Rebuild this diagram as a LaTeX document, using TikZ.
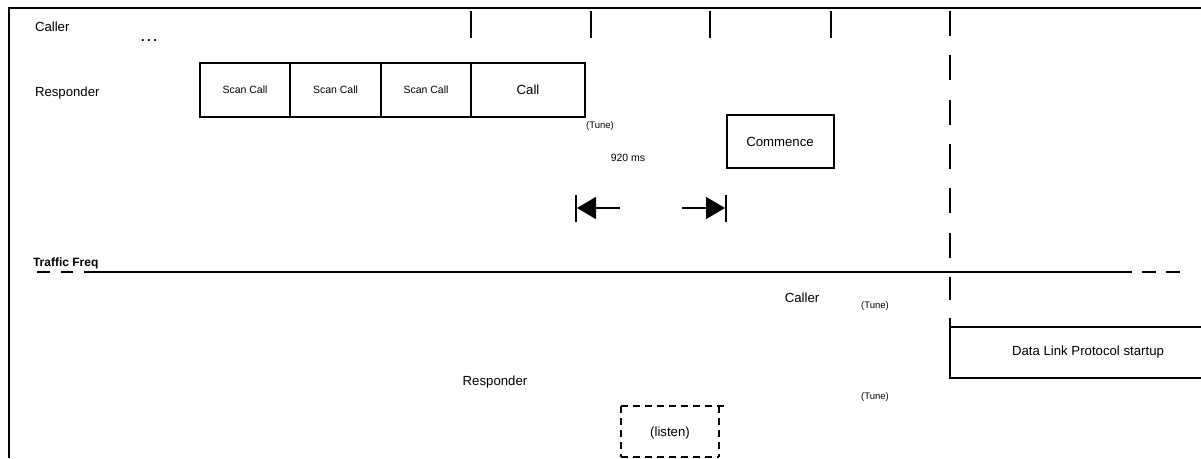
\documentclass[tikz,border=0pt]{standalone}
\usepackage{fontspec}
\setmainfont{Liberation Sans}
\usetikzlibrary{arrows.meta}
\begin{document}
\begin{tikzpicture}[x=1pt,y=-1pt,line width=2pt,
  lbl/.style={inner sep=0pt,font=\fontsize{13.2}{15}\selectfont},
  small/.style={inner sep=0pt,font=\fontsize{10.5}{12}\selectfont},
  tiny/.style={inner sep=0pt,font=\fontsize{9.5}{11}\selectfont},
  framebox/.style={draw,line width=2pt,inner sep=0pt},
  tick/.style={line width=2pt},
  dimarrow/.style={line width=1.5pt,-{Triangle[length=19pt,width=22pt]}},
  dashv/.style={line width=2pt,dash pattern=on 25pt off 19.3pt},
  listenbox/.style={line width=2pt,dash pattern=on 7pt off 5pt}]
\useasboundingbox (0,0) rectangle (1201,458);
% frame
\coordinate (ftl) at (9,8);
\coordinate (ftr) at (1201,8);
\coordinate (fbl) at (9,458);
\draw (fbl) -- (ftl) -- (ftr);
% labels
\node[lbl,anchor=west] (caller) at (34,27) {Caller};
\node[lbl,anchor=west] (resp) at (34,93) {Responder};
\node[inner sep=0pt,font=\fontsize{13}{15}\selectfont\bfseries,anchor=base] (dots) at (149,41) {.\hspace{2.5pt}.\hspace{2.5pt}.};
% caller ticks
\foreach \x/\n in {471/a,591/b,710/c,831/d}{
  \coordinate (t\n1) at (\x,11);
  \coordinate (t\n2) at (\x,38);
  \draw[tick] (t\n1) -- (t\n2);
}
% responder boxes
\node[framebox,small,minimum width=90,minimum height=54] (s1) at (245,90) {Scan Call};
\node[framebox,small,minimum width=91,minimum height=54] (s2) at (335.5,90) {Scan Call};
\node[framebox,small,minimum width=90,minimum height=54] (s3) at (426,90) {Scan Call};
\node[framebox,lbl,minimum width=114,minimum height=54] (call) at (528,90) {Call};
\node[tiny] (tune1) at (600,126) {(Tune)};
\node[framebox,lbl,minimum width=107,minimum height=53] (comm) at (780,141.5) {Commence};
\node[small] (ms) at (628,158) {920 ms};
% dimension arrows
\coordinate (bl1) at (576,195);
\coordinate (bl2) at (576,222);
\coordinate (br1) at (726,195);
\coordinate (br2) at (726,222);
\coordinate (al0) at (620,208);
\coordinate (al1) at (577,208);
\coordinate (ar0) at (682,208);
\coordinate (ar1) at (725,208);
\draw[tick] (bl1) -- (bl2);
\draw[tick] (br1) -- (br2);
\draw[dimarrow] (al0) -- (al1);
\draw[dimarrow] (ar0) -- (ar1);
% dashed vertical
\coordinate (dv1) at (950,11);
\coordinate (dv2) at (950,300);
\draw[dashv] (dv1) -- (dv2);
% traffic freq
\node[inner sep=0pt,font=\fontsize{12}{14}\selectfont\bfseries,anchor=west] (tf) at (32,263) {Traffic Freq};
\coordinate (tl0) at (37,272);
\coordinate (tl1) at (97,272);
\coordinate (tl2) at (1118,272);
\coordinate (tl3) at (1188,272);
\draw[dash pattern=on 12.5pt off 11pt] (tl0) -- (tl1);
\draw (tl1) -- (tl2);
\draw[dash pattern=on 14pt off 10pt] (tl2) -- (tl3);
% lower labels
\node[lbl] (caller2) at (802,298) {Caller};
\node[tiny] (tune2) at (875,306) {(Tune)};
\node[tiny] (tune3) at (875,397) {(Tune)};
\node[lbl] (resp2) at (495,382) {Responder};
% data link
\coordinate (d0) at (950,318);
\coordinate (d1) at (950,378);
\coordinate (d2) at (1201,378);
\coordinate (d3) at (950,327);
\coordinate (d4) at (1201,327);
\draw (d0) -- (d1) -- (d2);
\draw (d3) -- (d4);
\node[lbl] (dl) at (1088,352) {Data Link Protocol startup};
% listen
\coordinate (l1) at (621,406);
\coordinate (l2) at (728,406);
\coordinate (l3) at (719,406);
\coordinate (l4) at (719,457);
\coordinate (l5) at (621,457);
\draw[listenbox] (l1) -- (l2);
\draw[listenbox] (l3) -- (l4);
\draw[listenbox] (l1) -- (l5);
\draw[listenbox] (l5) -- (l4);
\node[lbl] (listen) at (670,433) {(listen)};
\end{tikzpicture}
\end{document}
